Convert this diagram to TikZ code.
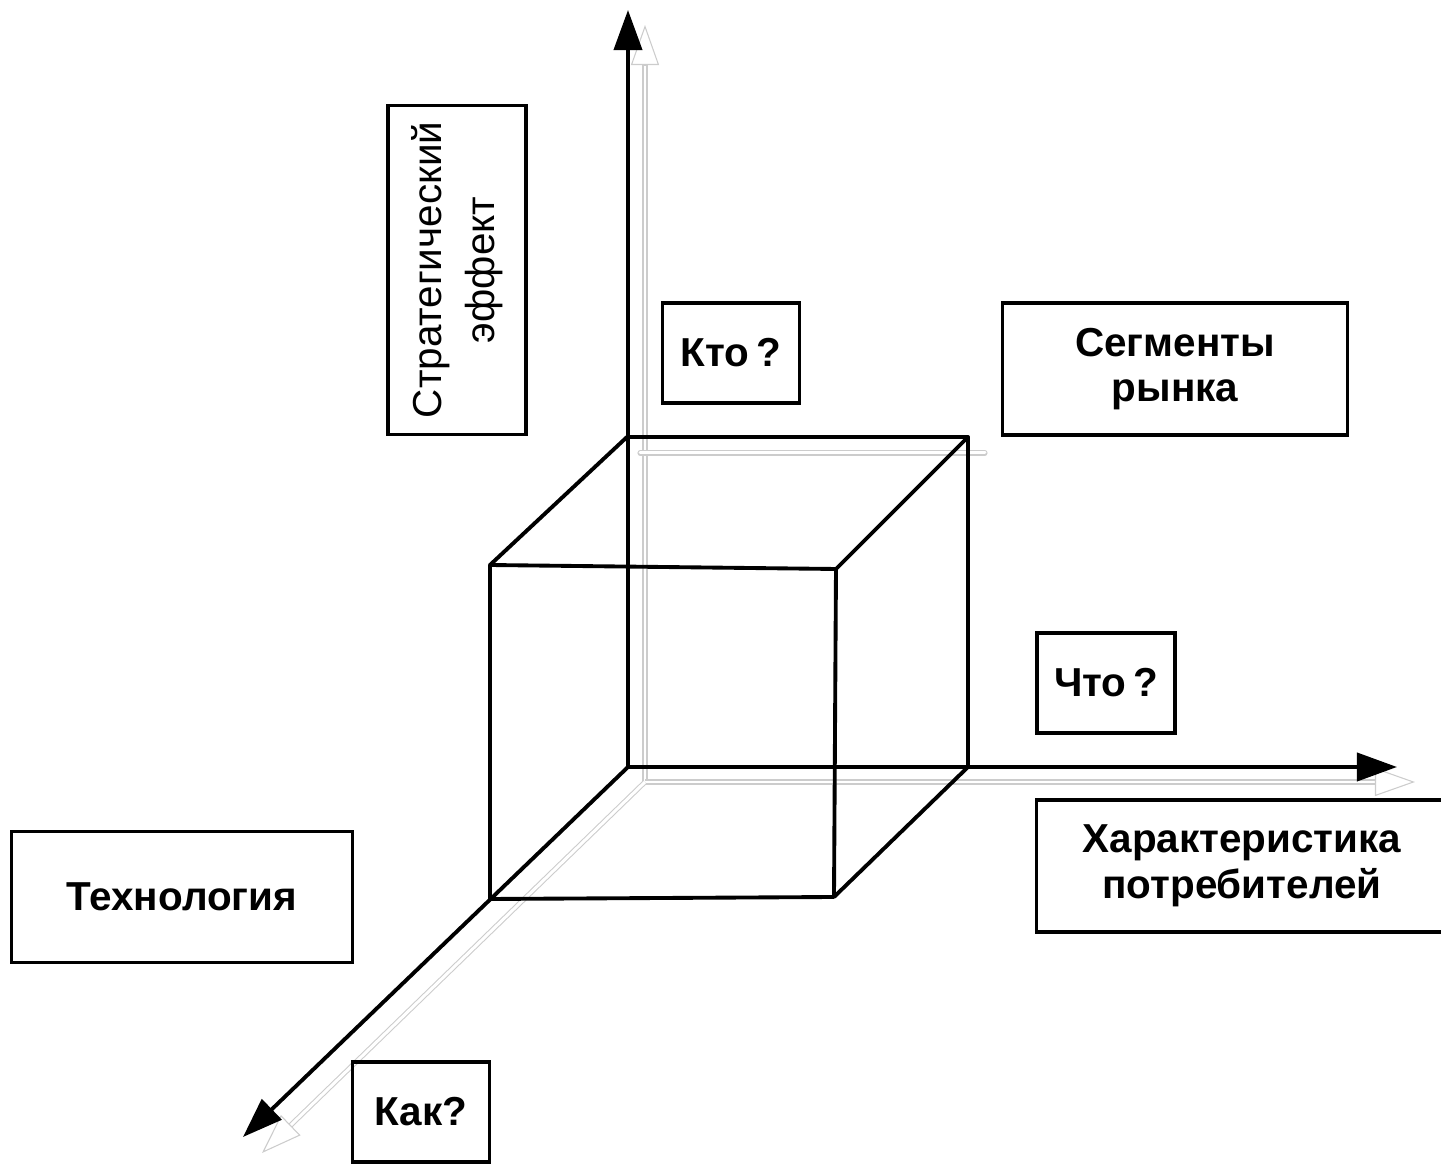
\documentclass[tikz,border=0pt]{standalone}
\usepackage{fontspec}
\setmainfont{Liberation Sans}
\usetikzlibrary{arrows.meta}
\usetikzlibrary{calc}

\begin{document}
\begin{tikzpicture}[x=0.01cm, y=-0.01cm,
                      labelbox/.style={rectangle, draw, line width=0.9pt, align=center, inner sep=0pt, font=\fontsize{11.5}{13}\selectfont\bfseries},
                      axisline/.style={line width=1.1pt, -{Triangle[length=0.4cm, width=0.28cm]}},
                      cubeline/.style={line width=1.1pt, line join=round},
                      shadowline/.style={draw=gray!40, line width=0.3pt, double=white, double distance=0.85pt},
                      shadowtip/.style={draw=gray!40, line width=0.3pt, -{Triangle[length=0.4cm, width=0.28cm, fill=white]}},
                  ]
                  \useasboundingbox (0,0) rectangle (1441,1164);

                  %Points
                  \coordinate (origin)   at (628,767);
                  \coordinate (ytip)     at (628,10);
                  \coordinate (xtip)     at (1397,767);
                  \coordinate (ztip)     at (243,1137);
                  \coordinate (origin_s) at (645,782);
                  \coordinate (ytip_s)   at (645,25);
                  \coordinate (xtip_s)   at (1415,782);
                  \coordinate (ztip_s)   at (262,1153);
                  \coordinate (top_s1)   at (640,453);
                  \coordinate (top_s2)   at (985,453);
                  \coordinate (back_tl)  at (627,437);
                  \coordinate (back_tr)  at (968,437);
                  \coordinate (back_br)  at (968,767);
                  \coordinate (front_tl) at (490,565);
                  \coordinate (front_tr) at (836,569);
                  \coordinate (front_br) at (834,897);
                  \coordinate (front_bl) at (490,899);

                  %Shadows
                  \draw[shadowline, shorten >=0.38cm] (origin_s) -- (ytip_s);
                  \draw[shadowline, shorten >=0.38cm] (origin_s) -- (xtip_s);
                  \draw[shadowline, shorten >=0.38cm] (origin_s) -- (ztip_s);
                  \draw[shadowline, line cap=round] (top_s1) -- (top_s2);
                  \draw[shadowtip] ($(ytip_s)!0.4cm!(origin_s)$) -- (ytip_s);
                  \draw[shadowtip] ($(xtip_s)!0.4cm!(origin_s)$) -- (xtip_s);
                  \draw[shadowtip] ($(ztip_s)!0.4cm!(origin_s)$) -- (ztip_s);

                  %Cube
                  \draw[cubeline] (front_tl) -- (front_tr) -- (front_br) -- (front_bl) -- cycle;
                  \draw[cubeline] (back_tl) -- (back_tr) -- (back_br);
                  \draw[cubeline] (front_tl) -- (back_tl);
                  \draw[cubeline] (front_tr) -- (back_tr);
                  \draw[cubeline] (front_br) -- (back_br);

                  %Axes
                  \draw[axisline] (origin) -- (ytip);
                  \draw[axisline] (origin) -- (xtip);
                  \draw[axisline] (origin) -- (ztip);

                  %Nodes
                  \node[labelbox, rotate=90, font=\fontsize{11.5}{15}\selectfont, minimum width=3.29cm, minimum height=1.38cm] (effect) at (457,270) {Стратегический\\эффект};
                  \node[labelbox, minimum width=1.37cm, minimum height=1cm]    (who)        at (731,353)  {Кто\,?};
                  \node[labelbox, minimum width=3.44cm, minimum height=1.32cm] (segments)   at (1175,369) {Сегменты\\рынка};
                  \node[labelbox, minimum width=1.38cm, minimum height=1cm]    (what)       at (1106,683) {Что\,?};
                  \node[labelbox, minimum width=4.1cm, minimum height=1.32cm]  (consumers)  at (1242,866) {Характеристика\\потребителей};
                  \node[labelbox, minimum width=3.41cm, minimum height=1.31cm] (technology) at (182,897)  {Технология};
                  \node[labelbox, minimum width=1.37cm, minimum height=1cm]    (how)        at (421,1112) {Как?};
              \end{tikzpicture}
\end{document}
